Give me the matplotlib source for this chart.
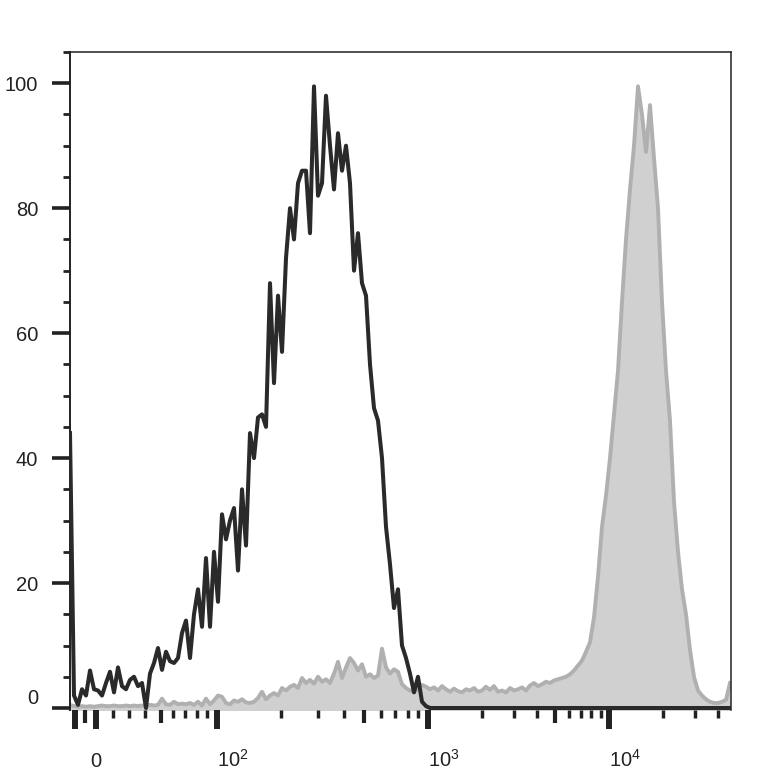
import numpy as np
import matplotlib
matplotlib.use("Agg")
import matplotlib.pyplot as plt
from matplotlib.ticker import MultipleLocator

plt.rcParams['font.family'] = ['Liberation Sans', 'DejaVu Sans']
plt.rcParams['mathtext.fontset'] = 'custom'
plt.rcParams['mathtext.rm'] = 'Liberation Sans'
plt.rcParams['mathtext.it'] = 'Liberation Sans:italic'
plt.rcParams['mathtext.bf'] = 'Liberation Sans:bold'

# histogram counts (% of max), one value per display channel (4 units wide)
black_counts = [
    44, 2, 0.5, 3, 2, 6, 3, 2.8, 2, 4,
    5.8, 2.5, 6.5, 3.5, 3, 4.5, 5, 3.5, 4, 0,
    5.5, 7.2, 9.6, 6.1, 9, 7.5, 7.2, 8, 12, 14,
    8, 15, 19, 13, 24, 13, 25, 17, 31, 27,
    30, 32, 22, 35, 26, 44, 40, 46.5, 47, 45,
    68, 52, 66, 57, 72, 80, 75, 84, 86, 86,
    76, 99.5, 82, 84, 98, 90, 83, 92, 86, 90,
    84, 70, 76, 68, 66, 55, 48, 46, 40, 29,
    23, 16, 19, 10, 8, 5.5, 2.5, 5, 1, 0.3,
    0,
]
grey_counts = [
    0.5, 0.3, 0.2, 0.3, 0.2, 0.3, 0.2, 0.3, 0.4, 0.3,
    0.3, 0.4, 0.3, 0.3, 0.4, 0.3, 0.4, 0.3, 0.4, 0.3,
    0.5, 0.4, 0.5, 1.5, 0.6, 0.5, 1.0, 0.6, 0.7, 0.6,
    0.8, 0.5, 1.0, 0.4, 1.5, 0.6, 1.2, 2.0, 1.8, 0.8,
    0.6, 1.2, 1.0, 1.4, 0.9, 0.8, 1.0, 1.6, 2.6, 1.4,
    2.0, 2.4, 2.0, 3.2, 2.8, 3.4, 3.7, 3.2, 4.8, 4.0,
    4.5, 3.9, 5.0, 4.2, 4.6, 4.0, 5.5, 7.4, 4.8, 6.5,
    8.0, 7.2, 6.0, 7.0, 5.0, 5.4, 4.8, 5.2, 9.5, 6.5,
    5.5, 6.2, 5.8, 3.8, 3.2, 2.8, 2.6, 3.0, 3.7, 3.4,
    3.0, 3.3, 2.8, 3.5, 3.0, 2.6, 3.1, 2.7, 2.5, 3.0,
    2.8, 3.2, 2.6, 2.8, 3.4, 2.9, 3.5, 2.6, 2.8, 2.5,
    3.2, 2.8, 3.0, 3.3, 2.8, 3.6, 4.0, 3.5, 3.8, 4.2,
    4.0, 4.4, 4.6, 4.8, 5.0, 5.4, 6.0, 6.8, 7.6, 9.0,
    10.5, 14.5, 21, 29, 34, 40, 47, 54, 65, 75,
    83, 90, 99.5, 95, 89, 96.5, 88, 80, 65, 54,
    46, 33, 25, 19, 15, 9.3, 5.0, 2.8, 2.0, 1.4,
    1.0, 0.8, 0.8, 1.0, 1.3, 4.0,
]

major_vals = [-100, 0, 100, 1000, 10000]
major_labels = ['', '0', '$10^2$', '$10^3$', '$10^4$']
mid_vals = [-50, 50, 500, 5000]
minor_vals = [20, 30, 40, 60, 70, 80, 90,
              200, 300, 400, 600, 700, 800, 900,
              2000, 3000, 4000, 6000, 7000, 8000, 9000,
              20000, 30000, 40000]

# biexponential-like display scale (piecewise: linear near zero, log above 100)
L_KNOTS = np.array([-1.25, -1.0, -0.5, 0.0, 0.2, 0.3, 0.4, 0.5, 0.6, 0.7, 0.8, 0.9, 1.0, 2.0, 3.0, 3.674])
D_KNOTS = np.array([0, 5, 15, 26, 43, 59, 75, 91, 103, 115, 127, 137, 147, 358, 539, 661], float)


def to_l(x):
    x = np.asarray(x, float)
    return np.where(x <= 100, x / 100.0, 1 + np.log10(np.maximum(x, 100) / 100.0))


def from_l(l):
    l = np.asarray(l, float)
    return np.where(l <= 1, l * 100.0, 100.0 * 10 ** (np.maximum(l, 1) - 1))


def forward(x):
    return np.interp(to_l(x), L_KNOTS, D_KNOTS)


def inverse(d):
    return from_l(np.interp(d, D_KNOTS, L_KNOTS))


channels = np.arange(len(grey_counts)) * 4.0
x_grey = inverse(channels)
x_black = inverse(channels[:len(black_counts)])
x_black_full = np.concatenate([x_black, x_grey[len(black_counts):]])
black_full = black_counts + [0] * (len(grey_counts) - len(black_counts))

W, H = 779, 780
fig = plt.figure(figsize=(W / 100, H / 100), dpi=100)
rect = [70 / W, 1 - 710 / H, 661 / W, 658 / H]
ax = fig.add_axes(rect)
ax.set_xscale('function', functions=(forward, inverse))
xlim = (float(inverse(0)), float(inverse(661)))
ax.set_xlim(*xlim)
ax.set_ylim(-0.32, 105)

ax.fill_between(x_grey, grey_counts, -1, color='#d0d0d0', lw=0, zorder=1)
ax.plot(x_grey, grey_counts, color='#b0b0b0', lw=2.8, zorder=2)
ax.plot(x_black_full, black_full, color='#2a2a2a', lw=2.9, zorder=3)

ink = '#222222'
for s in ['top', 'right']:
    ax.spines[s].set_linewidth(1.1)
    ax.spines[s].set_color(ink)
ax.spines['left'].set_linewidth(1.4)
ax.spines['left'].set_color(ink)
ax.spines['bottom'].set_visible(False)

ax.set_yticks([0, 20, 40, 60, 80, 100])
ax.yaxis.set_minor_locator(MultipleLocator(5))
ax.tick_params(axis='y', which='major', length=13, width=2.6, color=ink,
               labelsize=14.5, labelcolor=ink, pad=10)
ax.tick_params(axis='y', which='minor', length=5, width=2.0, color=ink)
ax.get_yticklabels()[0].set_verticalalignment('bottom')

ax.set_xticks(major_vals, major_labels)
ax.set_xticks(minor_vals, minor=True)
ax.tick_params(axis='x', which='major', length=14, width=4.3, color=ink,
               labelsize=14.5, labelcolor=ink, pad=27)
ax.tick_params(axis='x', which='minor', length=6, width=2.5, color=ink)
for lab in ax.get_xticklabels():
    lab.set_verticalalignment('baseline')
    if lab.get_text().startswith('$'):
        lab.set_horizontalalignment('left')

# second, empty axes only for the mid-length ticks
axm = fig.add_axes(rect)
axm.set_xscale('function', functions=(forward, inverse))
axm.set_xlim(*xlim)
axm.patch.set_visible(False)
for s in axm.spines.values():
    s.set_visible(False)
axm.set_yticks([])
axm.set_xticks(mid_vals, [''] * len(mid_vals))
axm.tick_params(axis='x', which='major', length=9.5, width=3.0, color=ink)
axm.tick_params(axis='x', which='minor', length=0)

fig.savefig('out.png', dpi=100)
